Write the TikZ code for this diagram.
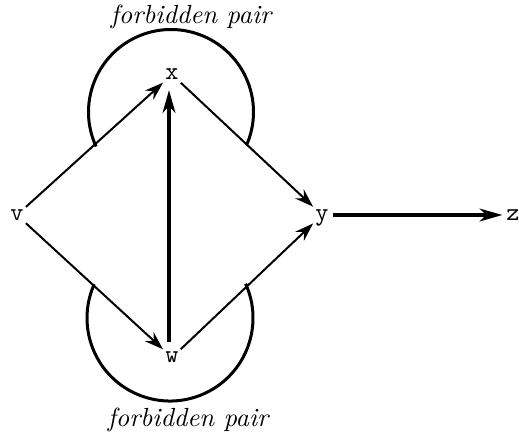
\documentclass[tikz,border=0pt]{standalone}
\usetikzlibrary{arrows.meta,shapes.geometric}
\begin{document}
\begin{tikzpicture}[x=0.4pt,y=-0.4pt,
  vertex/.style={ellipse,inner sep=0pt,minimum width=8pt,minimum height=12pt,
    font=\ttfamily,text height=1ex,text depth=0pt},
  thinarrow/.style={line width=0.8pt,-{Stealth[length=7.5pt,width=5pt,inset=2.5pt]}},
  thickarrow/.style={line width=1.8pt,-{Stealth[length=9pt,width=5pt,inset=2.5pt]}},
  arcline/.style={line width=1.2pt},
  lbl/.style={font=\fontsize{10.5}{12}\selectfont\itshape}]
\useasboundingbox (0,0) rectangle (519,436);
\node[vertex] (v) at (17,215) {v};
\node[vertex] (x) at (172,74.5) {x};
\node[vertex] (y) at (322,215) {y};
\node[vertex] (z) at (513,215) {z};
\node[vertex] (w) at (172,357.5) {w};
\node[lbl] (t1) at (191,17) {forbidden pair};
\node[lbl] (t2) at (188,420) {forbidden pair};
\draw[arcline] (171,112) ++(155.3:82.5) arc[start angle=155.3,end angle=383.9,radius=82.5];
\draw[arcline] (170,318) ++(-24.4:83) arc[start angle=-24.4,end angle=204,radius=83];
\draw[thinarrow] (v) -- (x);
\draw[thinarrow] (x) -- (y);
\draw[thinarrow] (v) -- (w);
\draw[thinarrow] (w) -- (y);
\draw[thickarrow] ([xshift=-1.2pt]w.north) -- ([xshift=-1.2pt]x.south);
\draw[thickarrow] (y) -- (z);
\end{tikzpicture}
\end{document}
